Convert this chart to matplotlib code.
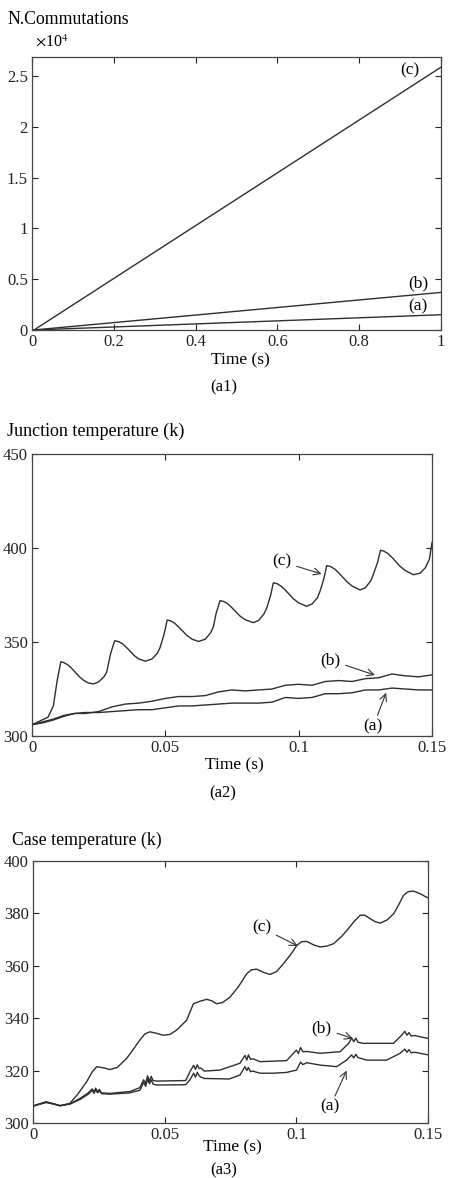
import numpy as np
import matplotlib.pyplot as plt

plt.rcParams['font.family'] = ['Liberation Serif', 'DejaVu Serif']
plt.rcParams['mathtext.fontset'] = 'stix'

line_col = '#2e2e2e'
axis_col = '#444444'

# (a1) number of commutations, x10^4
comm_t = [0.005, 1.0]
comm_a = [0.0, 0.15]
comm_b = [0.0, 0.37]
comm_c = [0.0, 2.59]

# (a2) junction temperature
junc_t_c = [0, 0.003, 0.006, 0.008, 0.0095, 0.0108, 0.012, 0.0135, 0.015, 0.0165, 0.018, 0.0195, 0.021, 0.023,
            0.025, 0.027, 0.028, 0.0295, 0.031,
            0.0325, 0.034, 0.0355, 0.037, 0.0385, 0.04, 0.0425, 0.045, 0.047, 0.048, 0.0495, 0.0507,
            0.052, 0.0535, 0.055, 0.0565, 0.058, 0.06, 0.0625, 0.065, 0.067, 0.068, 0.069, 0.0705,
            0.072, 0.0735, 0.075, 0.0765, 0.078, 0.08, 0.083, 0.085, 0.087, 0.088, 0.0895, 0.0905,
            0.092, 0.0935, 0.095, 0.0965, 0.098, 0.1, 0.103, 0.105, 0.107, 0.108, 0.1095, 0.1105,
            0.112, 0.1135, 0.115, 0.1165, 0.118, 0.12, 0.123, 0.125, 0.127, 0.128, 0.1295, 0.1307,
            0.132, 0.1335, 0.135, 0.1365, 0.138, 0.14, 0.143, 0.1455, 0.1475, 0.149, 0.15]
junc_c = [306, 308, 310, 316, 330, 339.5, 339, 337.8, 335.8, 333.5, 331.2, 329.5, 328.3, 327.7,
          328.8, 331.5, 334, 344, 350.7,
          350.2, 349, 347, 344.8, 342.6, 341, 339.8, 341, 344, 347, 354, 361.7,
          361.2, 360, 358, 355.8, 353.6, 351.5, 350.3, 351.5, 355, 358, 365, 372,
          371.5, 370.2, 368.2, 366, 363.8, 361.8, 360.3, 361.5, 365, 368, 375, 381.5,
          381, 379.6, 377.6, 375.3, 373, 370.8, 369, 370.2, 373.5, 377, 384, 390.6,
          390.1, 388.8, 386.8, 384.5, 382.2, 379.8, 377.7, 378.8, 382.5, 386, 392, 398.8,
          398.3, 397, 395, 392.6, 390.3, 388, 385.8, 386.6, 389.5, 394, 403]
junc_t_ab = [0, 0.004, 0.008, 0.012, 0.016, 0.02, 0.025, 0.03, 0.035, 0.04, 0.045, 0.05, 0.055, 0.06,
             0.065, 0.07, 0.075, 0.08, 0.085, 0.09, 0.095, 0.1, 0.105, 0.11, 0.115, 0.12, 0.125,
             0.13, 0.135, 0.14, 0.145, 0.15]
junc_b = [306, 307.5, 309, 311, 312, 312, 313, 315.5, 317, 317.5, 318.5, 320, 321, 321, 321.5, 323.5,
          324.5, 324, 324.5, 325, 327, 327.5, 327, 329, 329.5, 329, 330.5, 331, 333, 332, 331.5, 332.5]
junc_a = [306, 307, 308.5, 310.5, 312, 312.5, 312.5, 313, 313.5, 314, 314, 315, 316, 316, 316.5, 317,
          317.5, 317.5, 317.5, 318, 320.5, 320, 320.5, 322.5, 322.5, 323, 324.5, 324.5, 325.5, 325,
          324.5, 324.5]

# (a3) case temperature
case_t_c = [0, 0.003, 0.005, 0.008, 0.0103, 0.014, 0.017, 0.0204, 0.0225, 0.0242, 0.027, 0.0292, 0.032,
            0.0356, 0.038, 0.0406, 0.0425, 0.0444, 0.047, 0.0495, 0.052, 0.0546, 0.0584, 0.0609, 0.0635,
            0.066, 0.068, 0.0697, 0.072, 0.0748, 0.078, 0.0812, 0.083, 0.085, 0.0875, 0.09, 0.0925,
            0.0951, 0.098, 0.1002, 0.102, 0.104, 0.1065, 0.109, 0.1115, 0.1141, 0.117, 0.1192, 0.122,
            0.1243, 0.126, 0.128, 0.13, 0.1319, 0.1345, 0.137, 0.139, 0.1407, 0.1425, 0.1445, 0.147, 0.15]
case_c = [306.4, 307.3, 308, 307.2, 306.6, 307.5, 311, 315.8, 319.5, 321.5, 321, 320.4, 321.2, 324.7,
          328, 331.7, 334, 334.8, 334.2, 333.5, 333.8, 335.5, 339.3, 345.5, 346.5, 347.2, 346.6, 345.5,
          346, 348, 352, 357, 358.5, 358.7, 357.5, 356.7, 357.8, 360.8, 364.5, 367.8, 369.2, 369.3,
          368, 367.2, 367.5, 368.4, 371, 373.5, 377, 379.3, 379.3, 378, 376.8, 376.3, 377.5, 379.9,
          383.5, 386.9, 388.3, 388.5, 387.5, 385.9]
case_t_b = [0, 0.003, 0.005, 0.008, 0.0103, 0.014, 0.0179, 0.021, 0.0225, 0.0232, 0.0238, 0.0245,
            0.0252, 0.026, 0.0292, 0.0368, 0.0406, 0.042, 0.0428, 0.0435, 0.0442, 0.0449, 0.0456,
            0.047, 0.058, 0.0596, 0.061, 0.0617, 0.0624, 0.0631, 0.0638, 0.065, 0.071, 0.0786, 0.0805,
            0.0812, 0.0818, 0.0826, 0.0835, 0.0862, 0.0963, 0.1, 0.1008, 0.1016, 0.1025, 0.104, 0.109,
            0.1166, 0.12, 0.121, 0.1218, 0.1226, 0.1234, 0.1254, 0.1369, 0.14, 0.1412, 0.142, 0.1428,
            0.1436, 0.145, 0.147, 0.15]
case_b = [306.5, 307.5, 308.1, 307.3, 306.6, 307.3, 309.4, 311.5, 313, 311.8, 313.3, 312, 312.8,
          311.5, 311.3, 312, 313.5, 316.5, 315, 318, 316, 317.8, 316.2, 316, 316.2, 319.6, 322, 320.5,
          322.2, 320.8, 321, 319.8, 320.2, 322.8, 325.8, 324, 326, 324.3, 324.5, 323.4, 323.8, 327.8,
          326.5, 328.8, 327.2, 327.3, 326.6, 327.2, 330.5, 332.5, 331, 332.4, 330.8, 330.4, 330.4,
          333.5, 335, 333.5, 334.5, 333.2, 333.4, 332.9, 332.3]
case_t_a = [0, 0.003, 0.005, 0.008, 0.0103, 0.014, 0.0179, 0.021, 0.0225, 0.0232, 0.0238, 0.0245,
            0.0252, 0.026, 0.0292, 0.0368, 0.0406, 0.042, 0.0428, 0.0435, 0.0442, 0.0449, 0.0456,
            0.047, 0.058, 0.0596, 0.061, 0.0617, 0.0624, 0.0631, 0.0638, 0.065, 0.0745, 0.0786, 0.0805,
            0.0812, 0.0818, 0.0826, 0.0835, 0.0862, 0.0913, 0.0963, 0.1001, 0.1016, 0.1025, 0.104,
            0.109, 0.1153, 0.1191, 0.121, 0.1218, 0.1226, 0.1234, 0.1267, 0.1343, 0.1394, 0.1412,
            0.142, 0.1428, 0.1436, 0.145, 0.147, 0.15]
case_a = [306.5, 307.3, 307.8, 307.2, 306.6, 307.2, 309, 311, 312.5, 311.3, 312.8, 311.5, 312.3, 311.2,
          311, 311.5, 312.5, 315.5, 314, 316.8, 315, 316.5, 314.8, 314.5, 314.6, 316.5, 319, 317.5,
          319.3, 318, 317.5, 317, 316.8, 318.3, 321.5, 320, 321.2, 319.6, 319.8, 319, 319, 319.3,
          320.2, 323.2, 322.3, 323, 322.1, 321.5, 324, 326, 324.8, 326.2, 325, 324, 324, 326.6, 328.2,
          327, 328, 326.8, 327, 326.6, 326]


def style_axes(ax, xticks, xlabels, yticks, ylabels, xlim, ylim):
    ax.set_xlim(*xlim)
    ax.set_ylim(*ylim)
    ax.set_xticks(xticks)
    ax.set_xticklabels(xlabels)
    ax.set_yticks(yticks)
    ax.set_yticklabels(ylabels)
    ax.tick_params(direction='in', top=True, right=True, length=4, width=0.8,
                   labelsize=12, colors='#222222', pad=3)
    for s in ax.spines.values():
        s.set_color(axis_col)
        s.set_linewidth(0.9)


fig = plt.figure(figsize=(4.54, 11.78), dpi=100)

# ---- (a1)
ax1 = fig.add_axes([0.0705, 0.7199, 0.9009, 0.2317])
for v in (comm_a, comm_b, comm_c):
    ax1.plot(comm_t, v, color=line_col, lw=1.0)
style_axes(ax1, [0, 0.2, 0.4, 0.6, 0.8, 1.0], ['0', '0.2', '0.4', '0.6', '0.8', '1'],
           [0, 0.5, 1, 1.5, 2, 2.5], ['0', '0.5', '1', '1.5', '2', '2.5'], (0, 1), (0, 2.69))
ax1.text(0.924, 2.56, '(c)', fontsize=12.5, ha='center', va='center')
ax1.text(0.944, 0.46, '(b)', fontsize=12.5, ha='center', va='center')
ax1.text(0.944, 0.23, '(a)', fontsize=12.5, ha='center', va='center')
fig.text(7 / 454, 1 - 20 / 1178, 'N.Commutations', fontsize=12.8, ha='left', va='center')
fig.text(35 / 454, 1 - 42 / 1178, r'$\times$10$^{4}$', fontsize=11.5, ha='left', va='center')
fig.text(240 / 454, 1 - 360 / 1178, 'Time (s)', fontsize=12.5, ha='center', va='center')
fig.text(224 / 454, 1 - 387 / 1178, '(a1)', fontsize=12, ha='center', va='center')

# ---- (a2)
ax2 = fig.add_axes([0.0705, 0.3752, 0.8811, 0.2394])
ax2.plot(junc_t_ab, junc_a, color=line_col, lw=1.0)
ax2.plot(junc_t_ab, junc_b, color=line_col, lw=1.0)
ax2.plot(junc_t_c, junc_c, color=line_col, lw=1.0)
style_axes(ax2, [0, 0.05, 0.1, 0.15], ['0', '0.05', '0.1', '0.15'],
           [300, 350, 400, 450], ['300', '350', '400', '450'], (0, 0.15), (300, 450))
arw = dict(arrowstyle='->', color='#333333', lw=0.8, shrinkA=2, shrinkB=0)
ax2.annotate('(c)', xy=(0.1086, 386.2), xytext=(0.0936, 392.7), fontsize=12.5,
             ha='center', va='center', arrowprops=arw)
ax2.annotate('(b)', xy=(0.1286, 332.4), xytext=(0.1118, 340.4), fontsize=12.5,
             ha='center', va='center', arrowprops=arw)
ax2.annotate('(a)', xy=(0.1328, 323), xytext=(0.128, 305.3), fontsize=12.5,
             ha='center', va='center', arrowprops=dict(arw, shrinkA=0))
fig.text(7 / 454, 1 - 431 / 1178, 'Junction temperature (k)', fontsize=13, ha='left', va='center')
fig.text(234 / 454, 1 - 765 / 1178, 'Time (s)', fontsize=12.5, ha='center', va='center')
fig.text(223 / 454, 1 - 793 / 1178, '(a2)', fontsize=12, ha='center', va='center')

# ---- (a3)
ax3 = fig.add_axes([0.0727, 0.0467, 0.8700, 0.2224])
ax3.plot(case_t_a, case_a, color=line_col, lw=1.0)
ax3.plot(case_t_b, case_b, color=line_col, lw=1.0)
ax3.plot(case_t_c, case_c, color=line_col, lw=1.0)
style_axes(ax3, [0, 0.05, 0.1, 0.15], ['0', '0.05', '0.1', '0.15'],
           [300, 320, 340, 360, 380, 400], ['300', '320', '340', '360', '380', '400'],
           (0, 0.15), (300, 400))
ax3.annotate('(c)', xy=(0.1005, 367.6), xytext=(0.0868, 374.5), fontsize=12.5,
             ha='center', va='center', arrowprops=arw)
ax3.annotate('(b)', xy=(0.1214, 332.3), xytext=(0.1096, 336.1), fontsize=12.5,
             ha='center', va='center', arrowprops=arw)
ax3.annotate('(a)', xy=(0.1191, 320), xytext=(0.1128, 306.2), fontsize=12.5,
             ha='center', va='center', arrowprops=dict(arw, shrinkA=0))
fig.text(12 / 454, 1 - 840 / 1178, 'Case temperature (k)', fontsize=12.8, ha='left', va='center')
fig.text(232 / 454, 1 - 1147 / 1178, 'Time (s)', fontsize=12.5, ha='center', va='center')
fig.text(224 / 454, 1 - 1170 / 1178, '(a3)', fontsize=12, ha='center', va='center')

fig.savefig('out.png', dpi=100)
